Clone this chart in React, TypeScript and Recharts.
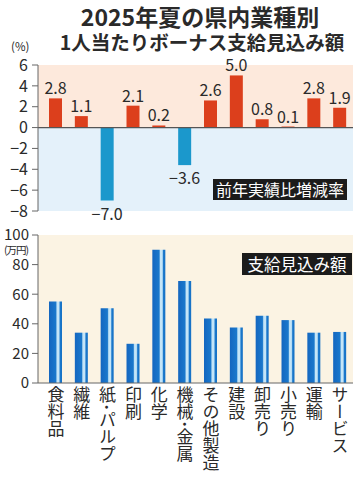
import { Bar, BarChart, Cell, LabelList, ReferenceArea, ReferenceLine, XAxis, YAxis } from 'recharts'

const categories = ['食料品', '繊維', '紙･パルプ', '印刷', '化学', '機械･金属', 'その他製造', '建設', '卸売り', '小売り', '運輸', 'サービス']
const changeRate = [2.8, 1.1, -7.0, 2.1, 0.2, -3.6, 2.6, 5.0, 0.8, 0.1, 2.8, 1.9]
const bonusAmount = [55, 34, 50.5, 26.5, 90, 69, 43.5, 37.5, 45.5, 42.5, 34, 34.5]
const rateTicks = [-8, -6, -4, -2, 0, 2, 4, 6]
const amountTicks = [0, 20, 40, 60, 80, 100]

const rateData = categories.map((name, i) => ({ name, rate: changeRate[i], bg: 0 }))
const amountData = categories.map((name, i) => ({ name, amount: bonusAmount[i], bg: 0 }))

const FONT = '"Noto Sans CJK JP", "Noto Sans", sans-serif'
const TEXT = '#2a2a2a'
const AXIS = '#666'
const UP = '#dc3f1c'
const DOWN = '#1b98cc'

const minus = (v: number | string) => String(v).replace('-', '−')

const RateLabel = (props: any) => {
  const { x, y, width, height, value } = props
  const top = Math.min(y, y + height)
  const bottom = Math.max(y, y + height)
  const ty = value >= 0 ? top - 4 : bottom + 19
  return (
    <text x={x + width / 2} y={ty} textAnchor="middle" fontSize={16} fill={TEXT} fontFamily={FONT}>
      {minus(Number(value).toFixed(1))}
    </text>
  )
}

const VerticalTick = (props: any) => {
  const { x, y, payload } = props
  return (
    <text x={x} y={y - 5} fontSize={17} fill={TEXT} fontFamily={FONT} style={{ writingMode: 'vertical-rl' }}>
      {payload.value}
    </text>
  )
}

export default function App() {
  return (
    <div style={{ position: 'absolute', left: 0, top: 0, width: 360, height: 485, background: '#fff', fontFamily: FONT, color: TEXT }}>
      <div style={{ position: 'absolute', left: 0, width: 400, top: 5, textAlign: 'center', fontSize: 23, fontWeight: 700, lineHeight: '23px' }}>
        2025年夏の県内業種別
      </div>
      <div style={{ position: 'absolute', left: 0, width: 404, top: 31, textAlign: 'center', fontSize: 19.5, fontWeight: 700, lineHeight: '21px' }}>
        1人当たりボーナス支給見込み額
      </div>
      <div style={{ position: 'absolute', left: 11, top: 40, fontSize: 11.5, lineHeight: '13px' }}>(%)</div>

      <div style={{ position: 'absolute', left: 0, top: 0 }}>
        <BarChart width={360} height={230} data={rateData} margin={{ top: 65, right: 7, bottom: 19, left: 0 }} barSize={13}>
          <XAxis dataKey="name" hide padding={{ left: 5, right: 0 }} />
          <XAxis xAxisId="bg" dataKey="bg" type="number" domain={[0, 1]} allowDataOverflow hide />
          <YAxis
            domain={[-8, 6]}
            ticks={rateTicks}
            interval={0}
            width={38}
            tickSize={6}
            tickMargin={4}
            tickFormatter={minus}
            tick={{ fontSize: 16, fill: TEXT, fontFamily: FONT }}
            axisLine={{ stroke: AXIS }}
            tickLine={{ stroke: AXIS }}
          />
          <ReferenceArea xAxisId="bg" x1={0} x2={1} y1={0} y2={6} fill="#fde9dc" fillOpacity={1} stroke="none" />
          <ReferenceArea xAxisId="bg" x1={0} x2={1} y1={-8} y2={0} fill="#e4f1fa" fillOpacity={1} stroke="none" />
          <ReferenceLine xAxisId="bg" y={0} stroke="#555" strokeWidth={1.2} />
          <Bar dataKey="rate" isAnimationActive={false}>
            {changeRate.map((v, i) => (
              <Cell key={`rate-${i}`} fill={v >= 0 ? UP : DOWN} />
            ))}
            <LabelList dataKey="rate" content={RateLabel} />
          </Bar>
        </BarChart>
      </div>

      <div style={{ position: 'absolute', left: 213, top: 179, width: 134, height: 21, background: '#1b1b1b', color: '#fff', fontSize: 16, lineHeight: '21px', textAlign: 'center' }}>
        前年実績比増減率
      </div>

      <div style={{ position: 'absolute', left: 0, top: 215 }}>
        <BarChart width={360} height={270} data={amountData} margin={{ top: 20, right: 7, bottom: 2, left: 0 }} barSize={13}>
          <defs>
            <linearGradient id="amountFill" x1="0" y1="0" x2="1" y2="0">
              <stop offset="0%" stopColor="#1466c0" />
              <stop offset="52%" stopColor="#1a78cc" />
              <stop offset="62%" stopColor="#c4e5f8" />
              <stop offset="76%" stopColor="#c4e5f8" />
              <stop offset="86%" stopColor="#1a78cc" />
              <stop offset="100%" stopColor="#1670c4" />
            </linearGradient>
          </defs>
          <XAxis
            dataKey="name"
            padding={{ left: 5, right: 0 }}
            height={100}
            interval={0}
            tickLine={false}
            axisLine={{ stroke: AXIS }}
            tick={<VerticalTick />}
          />
          <XAxis xAxisId="bg" dataKey="bg" type="number" domain={[0, 1]} allowDataOverflow hide />
          <YAxis
            domain={[0, 100]}
            ticks={amountTicks}
            interval={0}
            width={38}
            tickSize={6}
            tickMargin={3}
            tick={{ fontSize: 15, fill: TEXT, fontFamily: FONT }}
            axisLine={{ stroke: AXIS }}
            tickLine={{ stroke: AXIS }}
          />
          <ReferenceArea xAxisId="bg" x1={0} x2={1} y1={0} y2={100} fill="#fbf3e3" fillOpacity={1} stroke="none" />
          <Bar dataKey="amount" fill="url(#amountFill)" isAnimationActive={false} />
        </BarChart>
      </div>

      <div style={{ position: 'absolute', left: 4, top: 244, fontSize: 10.5, lineHeight: '12px', letterSpacing: -1 }}>(万円)</div>
      <div style={{ position: 'absolute', left: 242, top: 253, width: 110, height: 22, background: '#1b1b1b', color: '#fff', fontSize: 16.5, lineHeight: '22px', textAlign: 'center' }}>
        支給見込み額
      </div>
    </div>
  )
}
